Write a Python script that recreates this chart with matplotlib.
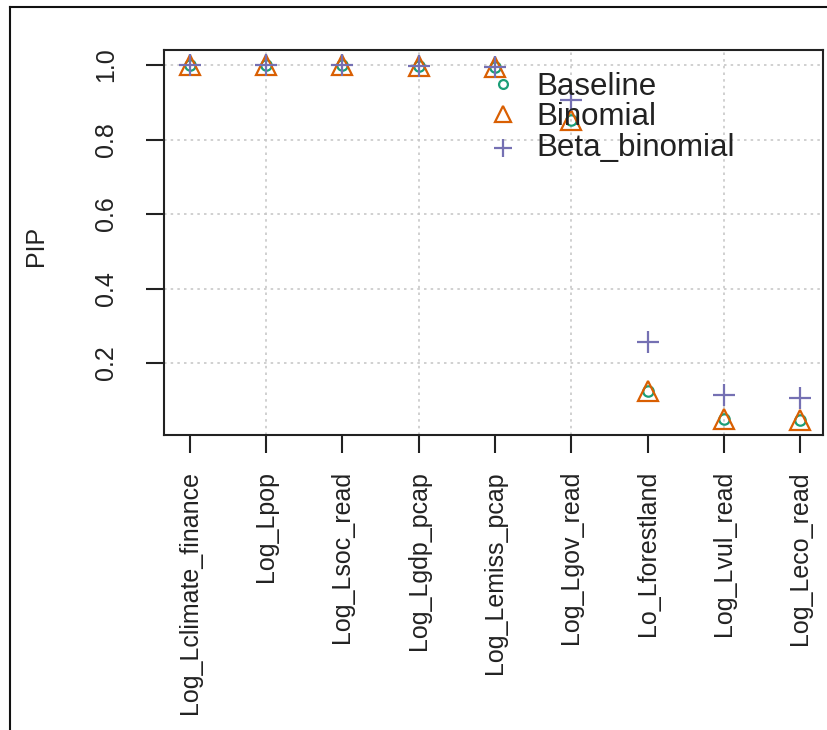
import matplotlib
matplotlib.use("Agg")
import matplotlib.pyplot as plt
from matplotlib.lines import Line2D

plt.rcParams['font.family'] = ['Liberation Sans', 'DejaVu Sans']

# variable names on the x axis
variables = ["Log_Lclimate_finance", "Log_Lpop", "Log_Lsoc_read", "Log_Lgdp_pcap",
             "Log_Lemiss_pcap", "Log_Lgov_read", "Lo_Lforestland", "Log_Lvul_read",
             "Log_Leco_read"]

# posterior inclusion probabilities per prior
pip_baseline = [1.0, 1.0, 1.0, 0.998, 0.995, 0.852, 0.125, 0.050, 0.047]
pip_binomial = [1.0, 1.0, 1.0, 0.998, 0.995, 0.852, 0.125, 0.050, 0.047]
pip_beta_binomial = [1.0, 1.0, 1.0, 0.998, 0.995, 0.906, 0.256, 0.114, 0.106]

series_names = ["Baseline", "Binomial", "Beta_binomial"]
series_values = [pip_baseline, pip_binomial, pip_beta_binomial]
colors = ["#1B9E77", "#D95F02", "#7570B3"]
markers = ["o", "^", "+"]
msizes = [7.5, 14, 16]

yticks = [0.2, 0.4, 0.6, 0.8, 1.0]

fig = plt.figure(figsize=(8.28, 7.30), dpi=100)
ax = fig.add_axes([164 / 828, 1 - 435 / 730, (823 - 164) / 828, (435 - 50) / 730])

x = list(range(1, len(variables) + 1))

# grid like R grid(): dotted light grey
for gx in [2, 4, 6, 8]:
    ax.axvline(gx, color="#c8c8c8", lw=1.2, ls=(0, (1.5, 2.5)), zorder=0)
for gy in yticks:
    ax.axhline(gy, color="#c8c8c8", lw=1.2, ls=(0, (1.5, 2.5)), zorder=0)

for name, vals, c, m, ms in zip(series_names, series_values, colors, markers, msizes):
    ax.plot(x, vals, ls="none", marker=m, ms=ms, mfc="none", mec=c, mew=1.6, label=name)

ax.set_xlim(0.66, 9.30)
ax.set_ylim(0.0067, 1.0403)

ax.set_xticks(x)
ax.set_xticklabels(variables, rotation=90, fontsize=18, va="top")
ax.set_yticks(yticks)
ax.set_yticklabels([f"{v:.1f}" for v in yticks], rotation=90, fontsize=18, va="center")
ax.tick_params(axis="both", length=13, width=1.5, color="#222222", labelcolor="#222222")
ax.tick_params(axis="x", pad=13)
ax.tick_params(axis="y", pad=20)

for sp in ax.spines.values():
    sp.set_linewidth(1.5)
    sp.set_color("#222222")

ax.set_ylabel("PIP", fontsize=18, color="#222222")
ax.yaxis.set_label_coords(-0.176, 0.49)

# legend drawn without a box, like R legend(bty="n")
leg_rows = [0.905, 0.826, 0.746]
leg_marker_rows = [0.912, 0.833, 0.746]
for name, c, m, ms, ly, my in zip(series_names, colors, markers, msizes, leg_rows, leg_marker_rows):
    ax.plot([0.514], [my], transform=ax.transAxes, ls="none", marker=m, ms=ms * 0.85,
            mfc="none", mec=c, mew=1.6, clip_on=False)
    ax.text(0.565, ly, name, transform=ax.transAxes, fontsize=22.5, va="center",
            ha="left", color="#222222")

# outer frame of the screenshot
fig.add_artist(Line2D([10 / 828, 10 / 828], [0, 1 - 7 / 730], color="#111111", lw=1.5))
fig.add_artist(Line2D([10 / 828, 1], [1 - 7 / 730, 1 - 7 / 730], color="#111111", lw=1.5))

fig.savefig("out.png", dpi=100)
